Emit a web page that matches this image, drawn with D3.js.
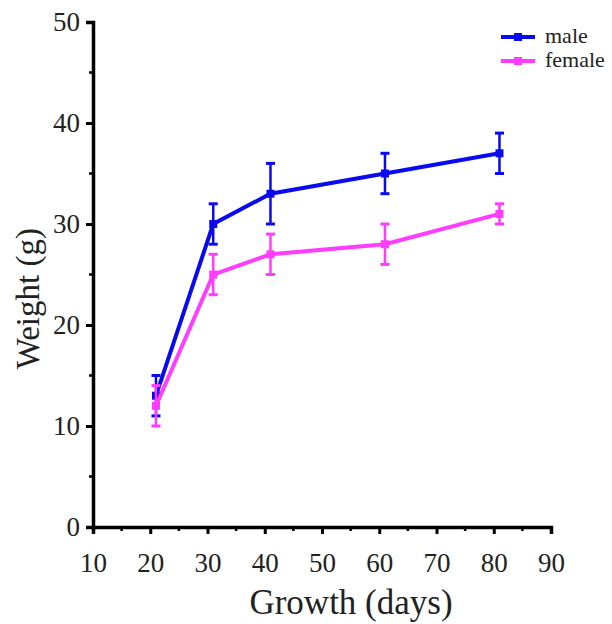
<!DOCTYPE html>
<html><head><meta charset="utf-8">
<script src="https://cdn.jsdelivr.net/npm/d3@7"></script>
<style>body{margin:0;background:#fff}svg{display:block}</style>
</head><body>
<script>
const days = [21, 31, 41, 61, 81];
const maleMean = [13, 30, 33, 35, 37];
const maleErr = [2, 2, 3, 2, 2];
const femaleMean = [12, 25, 27, 28, 31];
const femaleErr = [2, 2, 2, 2, 1];
const xTicks = [10, 20, 30, 40, 50, 60, 70, 80, 90];
const yTicks = [0, 10, 20, 30, 40, 50];
const seriesNames = ["male", "female"];

const W = 612, H = 624;
const svg = d3.select("body").append("svg").attr("width", W).attr("height", H);
const x = d3.scaleLinear().domain([10, 90]).range([93, 551]);
const y = d3.scaleLinear().domain([0, 50]).range([527, 22]);
const font = "'Liberation Serif', 'Times New Roman', serif";

const series = [
  {name: seriesNames[0], color: "#0a0af0", mean: maleMean, err: maleErr},
  {name: seriesNames[1], color: "#ff3cff", mean: femaleMean, err: femaleErr}
];

// axes
const xAxis = d3.axisBottom(x).tickValues(xTicks).tickSize(7).tickPadding(19).tickFormat(d3.format("d"));
const gx = svg.append("g").attr("transform", `translate(0,${y(0)})`).call(xAxis);
const yAxis = d3.axisLeft(y).tickValues(yTicks).tickSize(7).tickPadding(6).tickFormat(d3.format("d"));
const gy = svg.append("g").attr("transform", `translate(${x(10)},0)`).call(yAxis);
[gx, gy].forEach(g => {
  g.select(".domain").attr("stroke", "#000").attr("stroke-width", 3.5);
  g.selectAll(".tick line").attr("stroke", "#000").attr("stroke-width", 3);
  g.selectAll(".tick text").attr("font-family", font).attr("font-size", 27).attr("fill", "#222");
});
// minor ticks
const xMinor = d3.range(15, 90, 10);
svg.append("g").selectAll("line").data(xMinor).join("line")
  .attr("x1", d => x(d)).attr("x2", d => x(d)).attr("y1", y(0)).attr("y2", y(0) + 4)
  .attr("stroke", "#000").attr("stroke-width", 2.5);
const yMinor = d3.range(5, 50, 10);
svg.append("g").selectAll("line").data(yMinor).join("line")
  .attr("y1", d => y(d)).attr("y2", d => y(d)).attr("x1", x(10)).attr("x2", x(10) - 4)
  .attr("stroke", "#000").attr("stroke-width", 2.5);

// titles
svg.append("text").attr("x", 351).attr("y", 614).attr("text-anchor", "middle")
  .attr("font-family", font).attr("font-size", 35).attr("fill", "#222").text("Growth (days)");
svg.append("text").attr("transform", `translate(39,${y(22.6)}) rotate(-90)`).attr("text-anchor", "middle")
  .attr("font-family", font).attr("font-size", 33).attr("fill", "#222").text("Weight (g)");

// series
const line = d3.line().x(d => x(d[0])).y(d => y(d[1]));
series.forEach(s => {
  const pts = days.map((d, i) => [d, s.mean[i], s.err[i]]);
  const g = svg.append("g");
  g.append("path").datum(pts).attr("d", line).attr("fill", "none")
    .attr("stroke", s.color).attr("stroke-width", 4);
  const eb = g.selectAll("g.eb").data(pts).join("g");
  eb.append("line").attr("x1", d => x(d[0])).attr("x2", d => x(d[0]))
    .attr("y1", d => y(d[1] - d[2])).attr("y2", d => y(d[1] + d[2]))
    .attr("stroke", s.color).attr("stroke-width", 2.5);
  [-1, 1].forEach(sg => {
    eb.append("line").attr("x1", d => x(d[0]) - 4.5).attr("x2", d => x(d[0]) + 4.5)
      .attr("y1", d => y(d[1] + sg * d[2])).attr("y2", d => y(d[1] + sg * d[2]))
      .attr("stroke", s.color).attr("stroke-width", 3);
  });
  eb.append("rect").attr("x", d => x(d[0]) - 4).attr("y", d => y(d[1]) - 4)
    .attr("width", 8).attr("height", 8).attr("fill", s.color);
});

// legend
const leg = svg.append("g");
series.forEach((s, i) => {
  const ly = 37 + i * 24;
  leg.append("line").attr("x1", 501).attr("x2", 535).attr("y1", ly).attr("y2", ly)
    .attr("stroke", s.color).attr("stroke-width", 4);
  leg.append("rect").attr("x", 514).attr("y", ly - 4).attr("width", 8).attr("height", 8).attr("fill", s.color);
  leg.append("text").attr("x", 545).attr("y", ly + 6).attr("font-family", font)
    .attr("font-size", 22).attr("fill", "#222").text(s.name);
});
</script>
</body></html>
